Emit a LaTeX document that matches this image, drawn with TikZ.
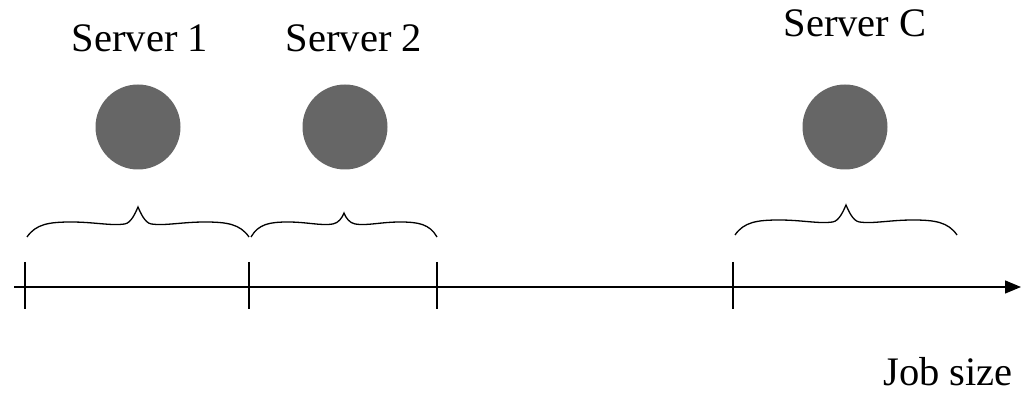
\documentclass[tikz,border=0pt]{standalone}
\usepackage{fontspec}
\setmainfont{Liberation Serif}
\usetikzlibrary{arrows.meta}
\tikzset{
  server/.style={circle, fill=srvgray, draw=none, minimum size=85pt, inner sep=0pt},
  lbl/.style={font=\fontsize{40.5}{48}\selectfont, inner sep=0pt, anchor=base},
  tick/.style={line width=2.4pt},
  axis/.style={line width=1.4pt, -{Triangle[length=16pt,width=13pt]}},
  bracestyle/.style={line width=1.3pt}
}
\definecolor{srvgray}{HTML}{666666}
\newcommand{\mybrace}[4]{%
  \begin{scope}[shift={(#1,#3)}, xscale={#2-#1}]
    \draw[bracestyle] (0,0) .. controls (0.04,-13) and (0.1,-15) .. (0.2,-15)
      .. controls (0.3,-15) and (0.38,-11) .. (0.44,-13)
      .. controls (0.47,-14) and (0.49,-#4+5) .. (0.5,-#4)
      .. controls (0.51,-#4+5) and (0.53,-14) .. (0.56,-13)
      .. controls (0.62,-11) and (0.7,-15) .. (0.8,-15)
      .. controls (0.9,-15) and (0.96,-13) .. (1,0);
  \end{scope}}
\begin{document}
\begin{tikzpicture}[x=1pt,y=-1pt]
  \useasboundingbox (0,0) rectangle (1021,395);
  % servers
  \node[server] (s1) at (138,127) {};
  \node[server] (s2) at (345,127) {};
  \node[server] (sc) at (845,127) {};
  % labels
  \node[lbl] (l1) at (140,52) {Server 1};
  \node[lbl] (l2) at (354,52) {Server 2};
  \node[lbl] (lc) at (855,37) {Server C};
  \node[lbl, anchor=base east] (job) at (1013,386) {Job size};
  % axis
  \coordinate (a0) at (14,287);
  \coordinate (a1) at (1021,287);
  \draw[axis] (a0) -- (a1);
  % ticks
  \foreach \x/\n in {25/t1,249/t2,437/t3,733/t4}{
    \coordinate (\n top) at (\x,262);
    \coordinate (\n bot) at (\x,309);
    \draw[tick] (\n top) -- (\n bot);
  }
  % braces
  \mybrace{27}{249}{237}{30}
  \mybrace{251}{437}{237}{24}
  \mybrace{735}{957}{235}{30}
\end{tikzpicture}
\end{document}
